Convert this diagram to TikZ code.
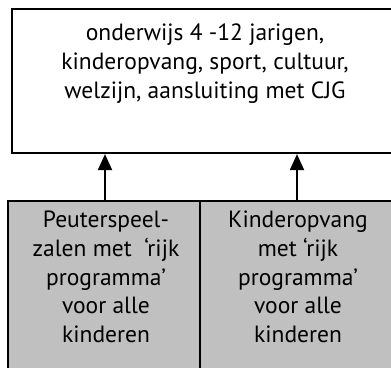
\documentclass[tikz,border=0pt]{standalone}
\usepackage{fontspec}
\setmainfont{PT Sans}
\usetikzlibrary{arrows.meta}
\definecolor{boxgray}{RGB}{192,192,192}
\tikzset{
  x=1pt, y=-1pt,
  frame/.style={draw=black, line width=2.2pt, rectangle, inner sep=0pt},
  label/.style={align=center, anchor=north, inner sep=0pt, font=\fontsize{23.5}{28.7}\selectfont},
  link/.style={line width=2pt, -{Triangle[width=14pt,length=16pt]}}
}
\begin{document}
\begin{tikzpicture}
\useasboundingbox (0,0) rectangle (391,367);
\clip (0,0) rectangle (391,367);
\node[frame, fill=white, minimum width=386pt, minimum height=144pt] (top) at (205,81) {};
\node[frame, fill=boxgray, minimum width=192pt, minimum height=200pt] (left) at (104,301) {};
\node[frame, fill=boxgray, minimum width=196pt, minimum height=200pt] (right) at (298,301) {};
\node[label] (toptext) at (205,24) {onderwijs 4 -12 jarigen,\\kinderopvang, sport, cultuur,\\welzijn, aansluiting met CJG};
\node[label] (lefttext) at (106,211) {Peuterspeel-\\zalen met \ ‘rijk\\programma’\\voor alle\\kinderen};
\node[label] (righttext) at (298,211) {Kinderopvang\\met ‘rijk\\programma’\\voor alle\\kinderen};
\coordinate (la) at (105,201);
\coordinate (ra) at (297,201);
\draw[link] (la) -- (la |- top.south);
\draw[link] (ra) -- (ra |- top.south);
\end{tikzpicture}
\end{document}
